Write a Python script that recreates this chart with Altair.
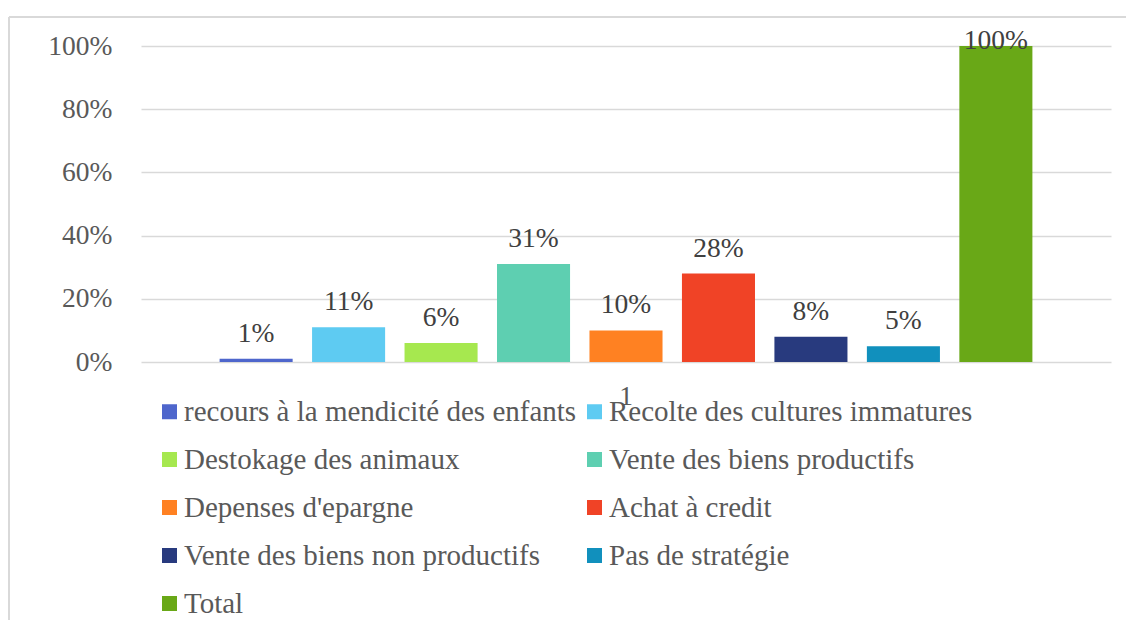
import altair as alt
import pandas as pd

series = [
    "recours à la mendicité des enfants",
    "Recolte des cultures immatures",
    "Destokage des animaux",
    "Vente des biens productifs",
    "Depenses d'epargne",
    "Achat à credit",
    "Vente des biens non productifs",
    "Pas de stratégie",
    "Total",
]
values = [0.01, 0.11, 0.06, 0.31, 0.10, 0.28, 0.08, 0.05, 1.00]
colors = ["#4e66cc", "#5ecbf2", "#a6e84f", "#5ecfb1", "#ff8122", "#f04326",
          "#283a7e", "#1190bd", "#69a817"]
category = ["1"] * len(series)

df = pd.DataFrame({"cat": category, "serie": series, "v": values})

FONT = "'Liberation Serif', 'Times New Roman', 'DejaVu Serif', serif"
W, H = 970, 316

base = alt.Chart(df).encode(
    x=alt.X("cat:N", title=None,
            scale=alt.Scale(paddingInner=0, paddingOuter=0),
            axis=alt.Axis(labelAngle=0, domain=False, ticks=False, labelFontSize=27.5,
                          labelColor="#595959", labelPadding=20, labelFont=FONT)),
    xOffset=alt.XOffset("serie:N", sort=series,
                        scale=alt.Scale(paddingInner=0.21, paddingOuter=0.85)),
)

bars = base.mark_bar().encode(
    y=alt.Y("v:Q", title=None,
            scale=alt.Scale(domain=[0, 1], nice=False),
            axis=alt.Axis(format=".0%", values=[0, 0.2, 0.4, 0.6, 0.8, 1.0],
                          domain=False, ticks=False, grid=True, gridColor="#d9d9d9",
                          gridWidth=1.5, labelFontSize=27.5, labelColor="#595959",
                          labelPadding=29, labelFont=FONT)),
    color=alt.Color("serie:N", sort=series,
                    scale=alt.Scale(domain=series, range=colors),
                    legend=alt.Legend(title=None, orient="none", legendX=14, legendY=351,
                                      direction="horizontal",
                                      columns=2, columnPadding=3, rowPadding=18,
                                      symbolType="square", symbolSize=225,
                                      symbolStrokeWidth=0, labelFontSize=29,
                                      labelFont=FONT, labelColor="#595959",
                                      labelOffset=0, labelLimit=0, padding=0)),
)

labels = base.transform_calculate(
    lab="min(datum.v + 17/316, 0.99)",
    txt="format(datum.v, '.0%')",
).mark_text(baseline="alphabetic", align="center", fontSize=27.5, font=FONT,
            color="#404040").encode(
    y=alt.Y("lab:Q", scale=alt.Scale(domain=[0, 1], nice=False)),
    text="txt:N",
)

frame_top = alt.Chart(df).mark_rule(color="#d9d9d9", strokeWidth=1.5).encode(
    x=alt.value(-132), x2=alt.value(1200), y=alt.value(-29))
frame_left = alt.Chart(df).mark_rule(color="#d9d9d9", strokeWidth=1.5).encode(
    x=alt.value(-132), y=alt.value(-29), y2=alt.value(800))

chart = alt.layer(frame_top, frame_left, bars, labels).properties(
    width=W, height=H,
    autosize=alt.AutoSizeParams(type="none"),
    padding={"left": 133, "top": 38, "right": 15, "bottom": 258},
).configure(font=FONT).configure_view(stroke=None)

chart.save("out.html", embed_options={"renderer": "svg", "actions": False})
